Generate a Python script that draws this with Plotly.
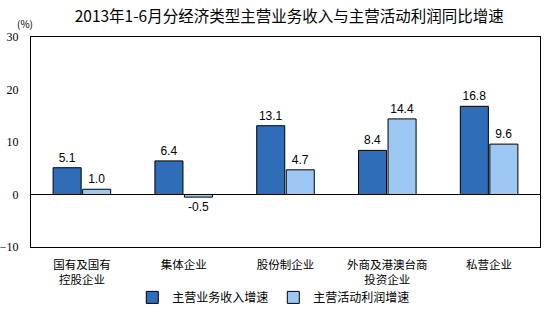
import plotly.graph_objects as go

categories = ["国有及国有<br>控股企业", "集体企业", "股份制企业", "外商及港澳台商<br>投资企业", "私营企业"]
revenue_growth = [5.1, 6.4, 13.1, 8.4, 16.8]
profit_growth = [1.0, -0.5, 4.7, 14.4, 9.6]
series_names = ["主营业务收入增速", "主营活动利润增速"]
title_text = "2013年1-6月分经济类型主营业务收入与主营活动利润同比增速"

CJK = "Noto Sans CJK SC"
dark = "#2F6DB9"
light = "#9DC8F3"

fig = go.Figure()
for name, vals, col in [(series_names[0], revenue_growth, dark), (series_names[1], profit_growth, light)]:
    fig.add_trace(go.Bar(
        x=categories, y=vals, name=name,
        marker=dict(color=col, line=dict(color="black", width=1)),
        text=[f"{v:.1f}" for v in vals], textposition="outside",
        textfont=dict(family="Liberation Sans, Arial", size=12, color="black"),
        cliponaxis=False,
    ))

fig.update_layout(
    width=554, height=324,
    margin=dict(l=31, r=14, t=37, b=75),
    paper_bgcolor="white", plot_bgcolor="white",
    barmode="group", bargap=0.42, bargroupgap=0.05,
    title=dict(text=title_text, x=0.522, xanchor="center", xref="container",
               y=0.948, yanchor="middle",
               font=dict(family=CJK, size=15.5, color="black")),
    showlegend=True,
    legend=dict(orientation="h", x=0.477, xanchor="center", y=-0.24, yanchor="middle",
                font=dict(family=CJK, size=12, color="black"), itemwidth=30,
                bgcolor="rgba(0,0,0,0)"),
    font=dict(family=CJK, color="black"),
)
fig.update_xaxes(
    showline=True, linecolor="black", linewidth=1, mirror=True,
    showgrid=False, ticks="", automargin=False,
    tickfont=dict(family=CJK, size=11.5, color="black"),
    ticklabelstandoff=7,
)
fig.update_yaxes(
    range=[-10, 30], dtick=10, showline=True, linecolor="black", linewidth=1, mirror=True,
    showgrid=False, zeroline=True, zerolinecolor="black", zerolinewidth=1,
    ticks="outside", ticklen=0, tickcolor="black", automargin=False,
    tickfont=dict(family="Liberation Serif, Times New Roman", size=12, color="black"),
    ticklabelstandoff=9,
)
fig.add_annotation(text="(%)", xref="paper", yref="paper", x=-0.011, y=1.062,
                   xanchor="center", yanchor="middle", showarrow=False,
                   font=dict(family=CJK, size=10, color="black"))

fig.write_html("out.html")
